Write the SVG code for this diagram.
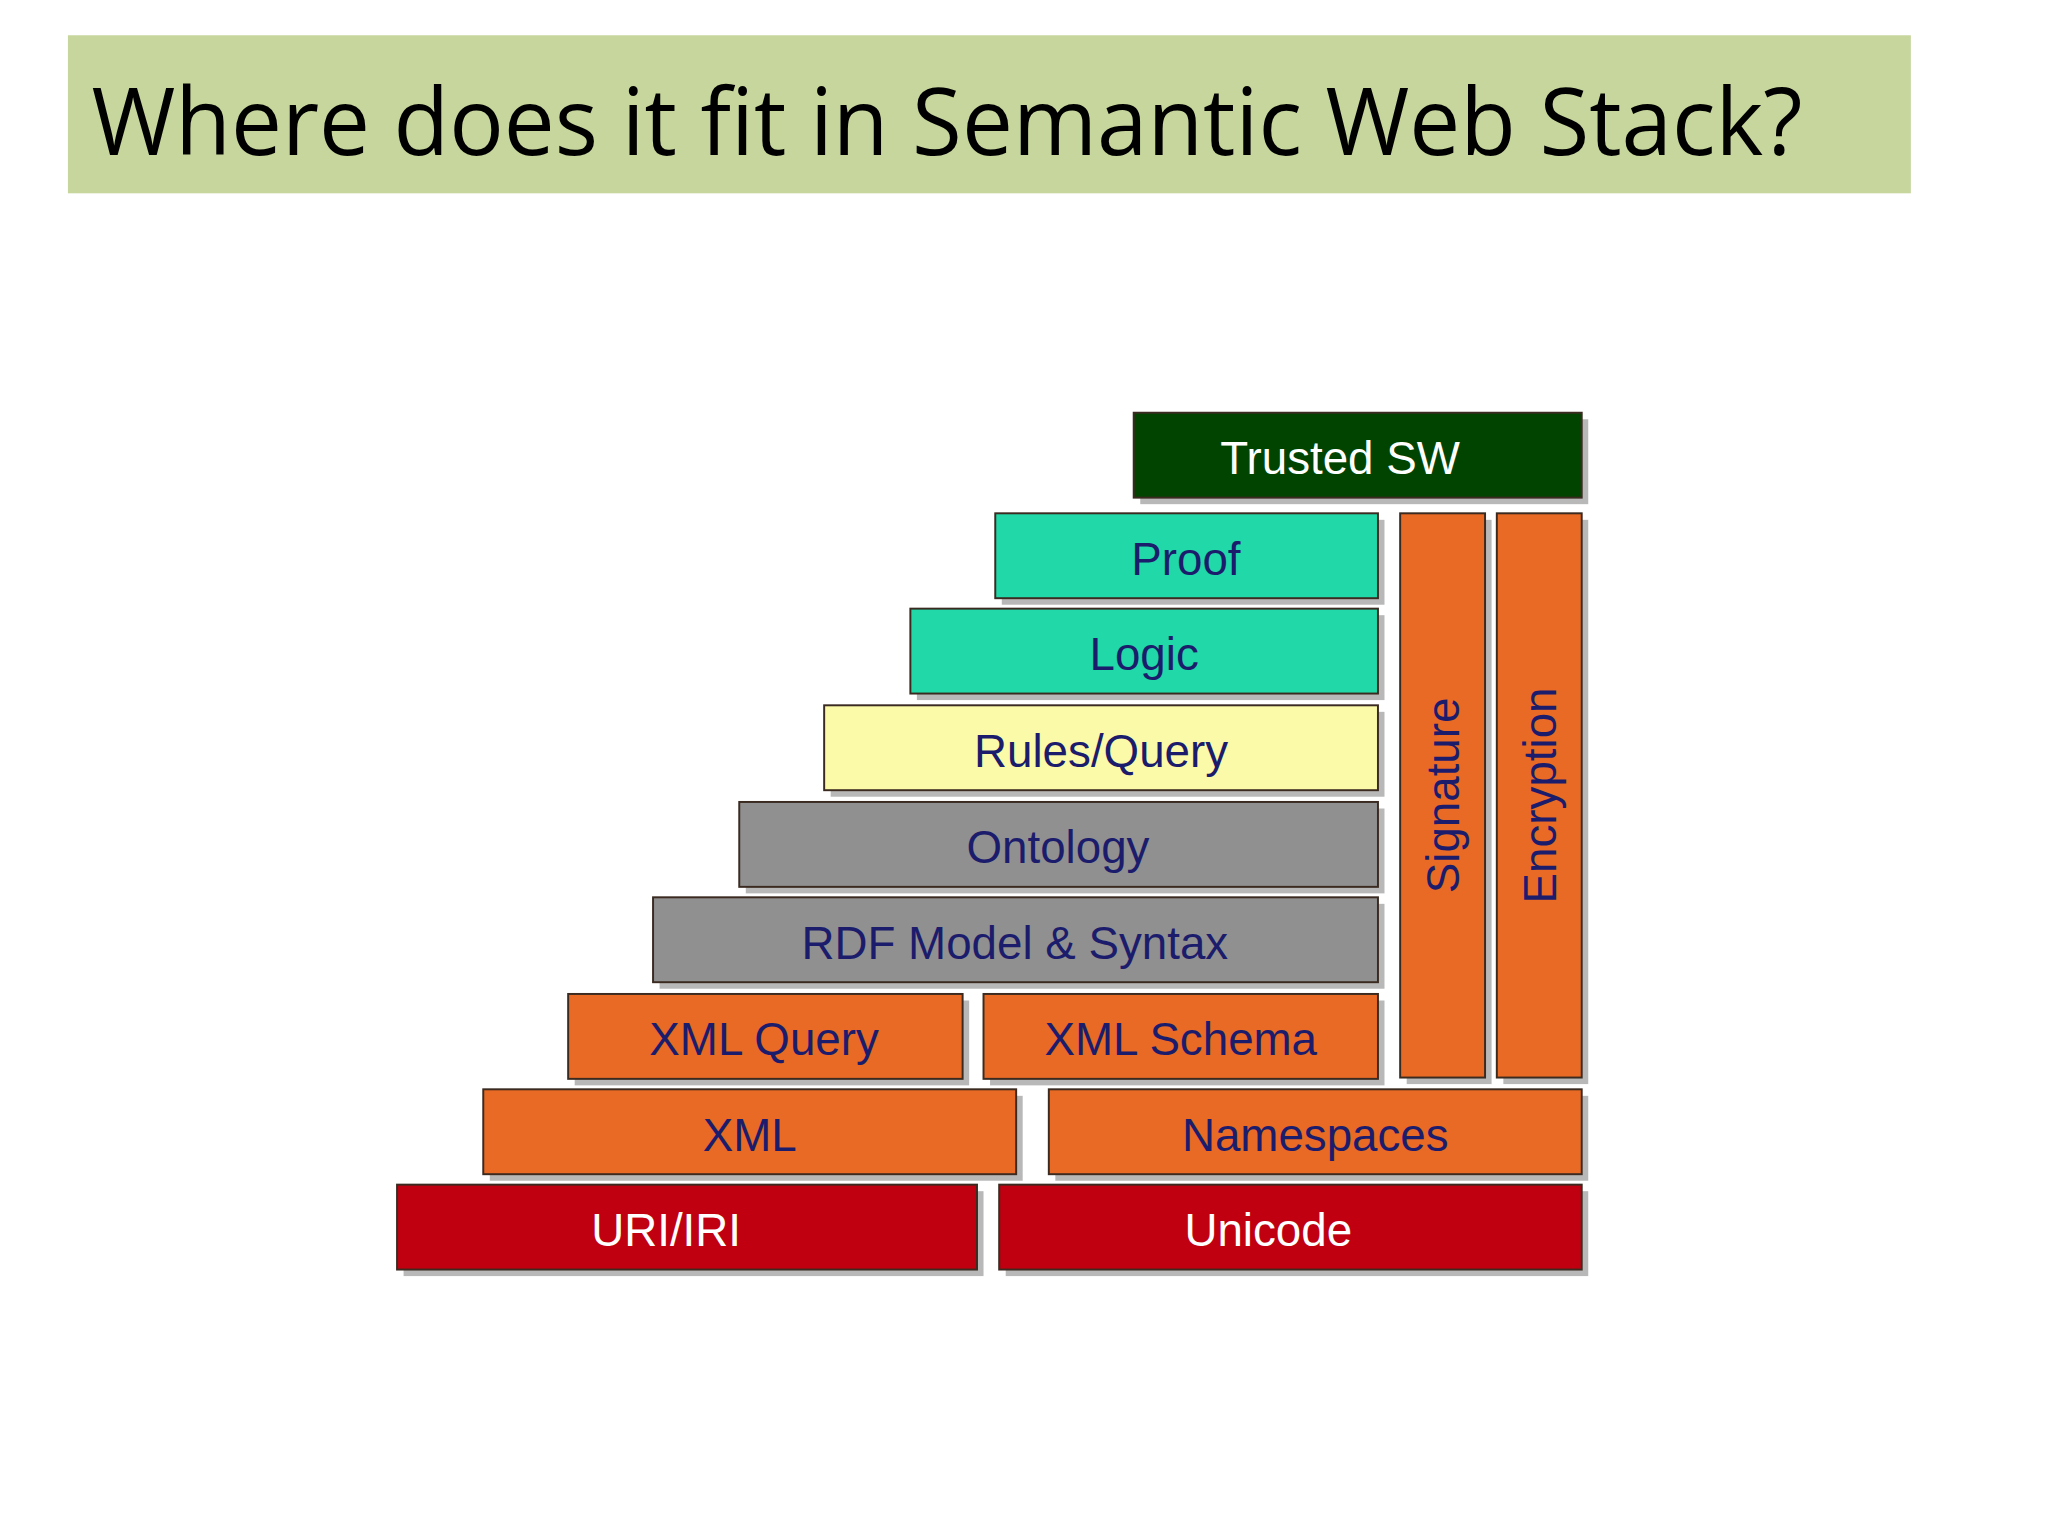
<svg xmlns="http://www.w3.org/2000/svg" width="2048" height="1536" viewBox="0 0 2048 1536">
<defs><style>
.b{stroke:#3a2a20;stroke-width:1.5}
.s{fill:#888;opacity:.6}
.t{font-family:"Liberation Sans",Arial,sans-serif;font-size:35px;fill:#1c1c6c;text-anchor:middle}
.w{fill:#fff}
.o{fill:#e86a24}.r{fill:#c00010}.g{fill:#909090}.c{fill:#20d8a8}
</style></defs>
<rect width="2048" height="1536" fill="#fff"/>
<g transform="scale(1.30612)">
<g id="title"><rect x="52" y="27" width="1411" height="121" fill="#c6d69c"/>
<text x="70" y="119" font-family="'Open Sans','Noto Sans',sans-serif" font-size="72" textLength="1310" lengthAdjust="spacingAndGlyphs" fill="#000">Where does it fit in Semantic Web Stack?</text></g>
<g id="trusted"><rect class="s" x="873" y="321" width="343" height="65"/><rect class="b" x="868" y="316" width="343" height="65" fill="#004400"/><text class="t w" x="1026" y="363">Trusted SW</text></g>
<g id="proof"><rect class="s" x="767" y="398" width="293" height="65"/><rect class="b c" x="762" y="393" width="293" height="65"/><text class="t" x="908" y="440">Proof</text></g>
<g id="logic"><rect class="s" x="702" y="471" width="358" height="65"/><rect class="b c" x="697" y="466" width="358" height="65"/><text class="t" x="876" y="513">Logic</text></g>
<g id="rules"><rect class="s" x="636" y="545" width="424" height="65"/><rect class="b" x="631" y="540" width="424" height="65" fill="#fafaa8"/><text class="t" x="843" y="587">Rules/Query</text></g>
<g id="ontology"><rect class="s" x="571" y="619" width="489" height="65"/><rect class="b g" x="566" y="614" width="489" height="65"/><text class="t" x="810" y="661">Ontology</text></g>
<g id="rdf"><rect class="s" x="505" y="692" width="555" height="65"/><rect class="b g" x="500" y="687" width="555" height="65"/><text class="t" x="777" y="734">RDF Model &amp; Syntax</text></g>
<g id="xmlquery"><rect class="s" x="440" y="766" width="302" height="65"/><rect class="b o" x="435" y="761" width="302" height="65"/><text class="t" x="585" y="808">XML Query</text></g>
<g id="xmlschema"><rect class="s" x="758" y="766" width="302" height="65"/><rect class="b o" x="753" y="761" width="302" height="65"/><text class="t" x="904" y="808">XML Schema</text></g>
<g id="xml"><rect class="s" x="375" y="839" width="408" height="65"/><rect class="b o" x="370" y="834" width="408" height="65"/><text class="t" x="574" y="881">XML</text></g>
<g id="namespaces"><rect class="s" x="808" y="839" width="408" height="65"/><rect class="b o" x="803" y="834" width="408" height="65"/><text class="t" x="1007" y="881">Namespaces</text></g>
<g id="uri"><rect class="s" x="309" y="912" width="444" height="65"/><rect class="b r" x="304" y="907" width="444" height="65"/><text class="t w" x="510" y="954">URI/IRI</text></g>
<g id="unicode"><rect class="s" x="770" y="912" width="446" height="65"/><rect class="b r" x="765" y="907" width="446" height="65"/><text class="t w" x="971" y="954">Unicode</text></g>
<g id="signature"><rect class="s" x="1077" y="398" width="65" height="432"/><rect class="b o" x="1072" y="393" width="65" height="432"/><text class="t" transform="translate(1117,609) rotate(-90)">Signature</text></g>
<g id="encryption"><rect class="s" x="1151" y="398" width="65" height="432"/><rect class="b o" x="1146" y="393" width="65" height="432"/><text class="t" transform="translate(1191,609) rotate(-90)">Encryption</text></g>
<g id="connectors"/>
</g>
</svg>
